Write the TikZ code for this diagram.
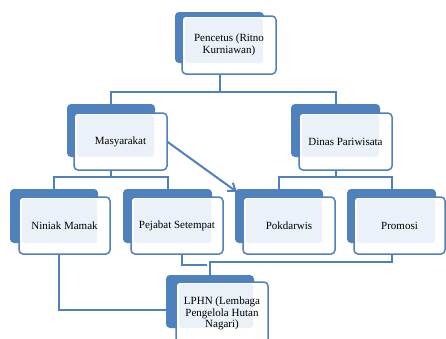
\documentclass[tikz,border=0pt]{standalone}
\usepackage{fontspec}
\setmainfont{Liberation Serif}
\usetikzlibrary{calc,fit,arrows.meta}
\definecolor{obl}{HTML}{4F81BD}
\definecolor{olt}{HTML}{EBF1F9}
\tikzset{
  backbox/.style={fill=obl, rounded corners=4pt, inner sep=0pt, outer sep=0pt},
  frontbox/.style={draw=obl, line width=1.5pt, fill=white, rounded corners=4pt, inner sep=0pt, outer sep=0pt},
  lightbox/.style={fill=olt, rounded corners=3pt},
  conn/.style={draw=obl, line width=2pt},
  lbl/.style={font=\fontsize{11}{11.5}\selectfont, align=center, text=black, inner sep=0pt}
}
\newcommand\orgunit[6]{%
  \node[backbox, fit={(#2)(#3)}] (#1b) {};
  \node[frontbox, fit={(#4)(#5)}] (#1) {};
  \path[lightbox] ($(#1.north west)+(3,2)$) rectangle ($(#1b.south east)+(-1,0)$);
  \node[lbl] (#1t) at (#1.center) {#6};
}
\begin{document}
\begin{tikzpicture}[x=1pt,y=-1pt]
\useasboundingbox (0,0) rectangle (446,338);
\fill[white] (0,0) rectangle (446,338);
\clip (0,0) rectangle (446,338);

\orgunit{P}{175,12}{264,63}{182,16}{276,74}{Pencetus (Ritno\\Kurniawan)}
\orgunit{M}{67,104}{155,157}{74,113}{167,170}{Masyarakat}
\orgunit{D}{291,104}{380,157}{299,113}{392,170}{Dinas Pariwisata}
\orgunit{N}{10,189}{98,243}{19,197}{110,254}{Niniak Mamak}
\orgunit{J}{123,189}{212,243}{131,197}{223,254}{Pejabat Setempat}
\orgunit{K}{235,189}{323,243}{243,197}{335,254}{Pokdarwis}
\orgunit{R}{347,189}{436,243}{354,197}{445,254}{Promosi}
\orgunit{L}{166,275}{254,328}{176,282}{268,345}{LPHN (Lembaga\\Pengelola Hutan\\Nagari)}

% top level
\coordinate (pj) at ($(Pb.south |- P.south)+(0,18)$);
\draw[conn] (Pb.south |- P.south) -- (pj);
\draw[conn] (Mb.north) |- (pj) -| (Db.north);
% Masyarakat
\coordinate (mj) at ($(Mb.south |- M.south)+(0,7)$);
\draw[conn] (Mb.south |- M.south) -- (mj);
\draw[conn] (Nb.north) |- (mj) -| (Jb.north);
% Dinas
\coordinate (dj) at ($(Db.south |- D.south)+(0,7)$);
\draw[conn] (Db.south |- D.south) -- (dj);
\draw[conn] (Kb.north) |- (dj) -| (Rb.north);
% arrow
\draw[conn, -{Straight Barb[length=7pt,width=10pt]}] (M.east) -- ($(Kb.north west)+(2,3)$);
% bottom
\draw[conn] ($(N.south)+(-6,0)$) |- ($(Lb.west)+(0,8.5)$);
\draw[conn] (Rb.south |- R.south) -- ++(0,8) -| (Lb.north);
\draw[conn] ($(J.south)+(5,0)$) -- ++(0,11) -- ++(25,0);
\end{tikzpicture}
\end{document}
